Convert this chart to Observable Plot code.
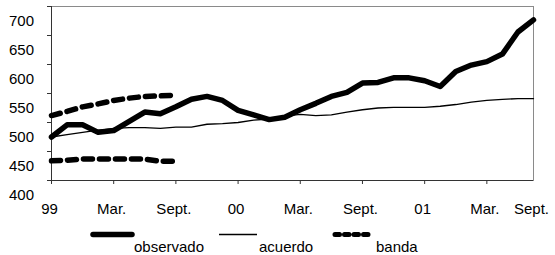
<!DOCTYPE html>
<html>
<head>
<meta charset="utf-8">
<script src="https://cdn.jsdelivr.net/npm/d3@7"></script>
<script src="https://cdn.jsdelivr.net/npm/@observablehq/plot@0.6"></script>
<style>
  html, body { margin: 0; padding: 0; background: #fff; }
  #chart { width: 555px; height: 255px; font-family: Arial, "Liberation Sans", sans-serif; }
  #chart svg { display: block; }
</style>
</head>
<body>
<div id="chart"></div>
<script>
// ---- data ----
const seriesNames = ["observado", "acuerdo", "banda"];
const observado = [500,521,521,508,511,527,543,540,552,565,570,563,546,538,530,534,547,558,570,577,593,594,602,602,597,587,613,624,630,643,681,702];
const acuerdo   = [500,504,508,512,515,516,516,515,517,517,522,523,525,529,531,536,539,537,538,543,547,550,551,551,551,553,556,560,563,565,566,566];
const bandaSup  = [537,544,552,557,563,567,570,571,572];
const bandaInf  = [459,460,462,462,462,462,462,458,458];
const xTickPos   = [0,4,8,12,16,20,24,28];
const xLabels    = ["99","Mar.","Sept.","00","Mar.","Sept.","01","Mar.","Sept."];
const xLabelPos  = [0,4,8,12,16,20,24,28,31];
const yLabels    = [400,450,500,550,600,650,700];
const yTickPos   = [425,475,525,575,625,675,725];

const toRows = (arr) => arr.map((v, i) => ({i, v}));
const font = 'Arial, "Liberation Sans", sans-serif';

const plot = Plot.plot({
  width: 555,
  height: 220,
  marginLeft: 51,
  marginRight: 22,
  marginTop: 6,
  marginBottom: 40,
  style: {fontFamily: font, fontSize: "15px", background: "#fff", color: "#000", overflow: "visible"},
  x: {domain: [0, observado.length - 1], axis: null, label: null},
  y: {domain: [425, 725], axis: null, label: null},
  marks: [
    Plot.frame({stroke: "#8a8a8a", strokeWidth: 1}),
    Plot.ruleX([0], {stroke: "#333", strokeWidth: 1}),
    Plot.ruleY([425], {stroke: "#333", strokeWidth: 1}),
    Plot.axisY(yTickPos, {anchor: "left", tickSize: 4, tickFormat: () => "", stroke: "#333", label: null}),
    Plot.axisX(xTickPos, {anchor: "bottom", tickSize: 4, tickFormat: () => "", stroke: "#333", label: null}),
    Plot.text(yLabels, {y: d => d, frameAnchor: "left", dx: -17.5, textAnchor: "end", lineAnchor: "middle", text: d => String(d), fontSize: 15, fill: "#000"}),
    Plot.text(xLabels, {x: (d, k) => xLabelPos[k], frameAnchor: "bottom", dy: 29, dx: -2, textAnchor: "middle", lineAnchor: "middle", text: d => d, fontSize: 15, fill: "#000"}),
    Plot.line(toRows(acuerdo), {x: "i", y: "v", stroke: "#000", strokeWidth: 1.3, curve: "linear"}),
    Plot.line(toRows(bandaSup), {x: "i", y: "v", stroke: "#000", strokeWidth: 5.5, strokeDasharray: "9,7", strokeLinecap: "round"}),
    Plot.line(toRows(bandaInf), {x: "i", y: "v", stroke: "#000", strokeWidth: 5.5, strokeDasharray: "9,7", strokeLinecap: "round"}),
    Plot.line(toRows(observado), {x: "i", y: "v", stroke: "#000", strokeWidth: 5.5, strokeLinejoin: "round", strokeLinecap: "round"})
  ]
});

const chart = document.getElementById("chart");
chart.appendChild(plot);

// ---- legend below the plot ----
const ns = "http://www.w3.org/2000/svg";
const leg = document.createElementNS(ns, "svg");
leg.setAttribute("width", 555);
leg.setAttribute("height", 35);
leg.style.display = "block";
const items = [
  {name: seriesNames[0], x1: 93, x2: 132, tx: 134, w: 5.5, dash: null},
  {name: seriesNames[1], x1: 219, x2: 257, tx: 259, w: 1.3, dash: null},
  {name: seriesNames[2], x1: 335, x2: 370, tx: 376, w: 5, dash: "4.5,5"}
];
for (const it of items) {
  const ln = document.createElementNS(ns, "line");
  ln.setAttribute("x1", it.x1); ln.setAttribute("x2", it.x2);
  ln.setAttribute("y1", 14.5); ln.setAttribute("y2", 14.5);
  ln.setAttribute("stroke", "#000");
  ln.setAttribute("stroke-width", it.w);
  ln.setAttribute("stroke-linecap", it.w > 2 ? "round" : "butt");
  if (it.dash) ln.setAttribute("stroke-dasharray", it.dash);
  leg.appendChild(ln);
  const t = document.createElementNS(ns, "text");
  t.setAttribute("x", it.tx); t.setAttribute("y", 31.5);
  t.setAttribute("font-family", font);
  t.setAttribute("font-size", 15);
  t.setAttribute("fill", "#000");
  t.textContent = it.name;
  leg.appendChild(t);
}
chart.appendChild(leg);
</script>
</body>
</html>
